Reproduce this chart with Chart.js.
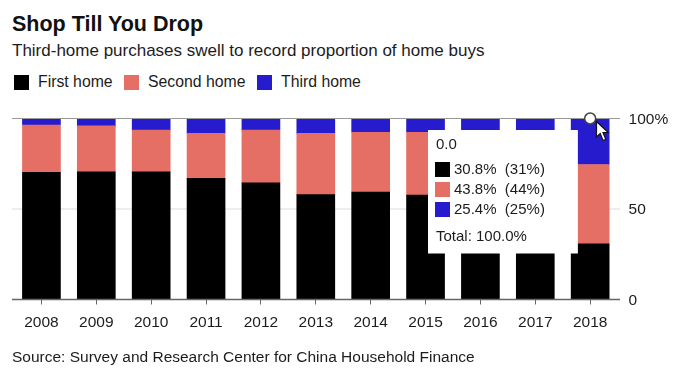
<!DOCTYPE html>
<html>
<head>
<meta charset="utf-8">
<title>Shop Till You Drop</title>
<script src="https://cdn.jsdelivr.net/npm/chart.js@4"></script>
<style>
  html, body { margin: 0; padding: 0; background: #fff; }
  body { width: 684px; height: 381px; position: relative; overflow: hidden; font-family: "Liberation Sans", Arial, sans-serif; color: #1c1c1c; }
  canvas { position: absolute; left: 0; top: 0; }
  .txt { position: absolute; white-space: nowrap; }
  #heading { left: 12px; top: 11px; font-size: 21.5px; line-height: 26px; font-weight: bold; color: #111; }
  #sub { left: 12px; top: 40px; font-size: 17px; line-height: 22px; }
  #source { left: 12px; top: 348px; font-size: 15.5px; line-height: 18px; }
  .key { position: absolute; top: 75px; width: 15px; height: 15px; }
  .keytxt { top: 73px; font-size: 15.8px; line-height: 18px; }
  #cursor { position: absolute; left: 595px; top: 120px; }
</style>
</head>
<body>
<div class="txt" id="heading">Shop Till You Drop</div>
<div class="txt" id="sub">Third-home purchases swell to record proportion of home buys</div>
<div id="legend"></div>
<canvas id="chart" width="684" height="381"></canvas>
<svg id="cursor" width="15" height="24" viewBox="0 0 15 24">
  <path d="M1.5 1.5 L1.5 17 L5.2 13.6 L8 20.5 L10.8 19.3 L8 12.6 L13 12.4 Z" fill="#fff" stroke="#111" stroke-width="1.2"/>
</svg>
<div class="txt" id="source">Source: Survey and Research Center for China Household Finance</div>

<script>
const years = ['2008', '2009', '2010', '2011', '2012', '2013', '2014', '2015', '2016', '2017', '2018'];
const firstHome = [70.2, 70.6, 70.6, 67.0, 64.5, 57.9, 59.4, 57.7, 56.0, 50.0, 30.8];
const secondHome = [26.2, 25.3, 23.0, 24.8, 29.1, 33.9, 33.0, 34.7, 36.0, 38.0, 43.8];
const thirdHome = [3.6, 4.1, 6.4, 8.2, 6.4, 8.2, 7.6, 7.6, 8.0, 12.0, 25.4];
const hoverMarker = [null, null, null, null, null, null, null, null, null, null, 100];
const yTicks = [0, 50, 100];
const seriesNames = ['First home', 'Second home', 'Third home'];
const seriesColors = ['#000000', '#e56f64', '#261ccd'];
const legendLeft = [14, 124, 257];
const tooltipTitle = '0.0';
const tooltipRounded = ['31%', '44%', '25%'];
const tooltipTotal = 'Total: 100.0%';
const fontFamily = '"Liberation Sans", Arial, sans-serif';

// legend
const legend = document.getElementById('legend');
seriesNames.forEach((name, i) => {
    const box = document.createElement('div');
    box.className = 'key';
    box.style.left = legendLeft[i] + 'px';
    box.style.background = seriesColors[i];
    legend.appendChild(box);
    const label = document.createElement('div');
    label.className = 'txt keytxt';
    label.style.left = (legendLeft[i] + 24) + 'px';
    label.textContent = name;
    legend.appendChild(label);
});

// gridlines run a little past the plot on both sides, zero line sits over the bars
const axisLines = {
    id: 'axisLines',
    beforeDatasetsDraw(chart) {
        const { ctx, scales: { y } } = chart;
        ctx.save();
        ctx.strokeStyle = '#dcdcdc';
        ctx.lineWidth = 1;
        ctx.beginPath();
        ctx.moveTo(12, y.getPixelForValue(50));
        ctx.lineTo(620, y.getPixelForValue(50));
        ctx.stroke();
        ctx.restore();
    },
    // dataset 0 is the last bar set drawn, the marker still comes after it
    afterDatasetDraw(chart, args) {
        if (args.index !== 0) return;
        const { ctx, scales: { y } } = chart;
        ctx.save();
        ctx.strokeStyle = '#999999';
        ctx.lineWidth = 1;
        ctx.beginPath();
        ctx.moveTo(12, y.getPixelForValue(100));
        ctx.lineTo(620, y.getPixelForValue(100));
        ctx.stroke();
        ctx.strokeStyle = '#666666';
        ctx.lineWidth = 1.5;
        ctx.beginPath();
        ctx.moveTo(12, y.getPixelForValue(0));
        ctx.lineTo(620, y.getPixelForValue(0));
        ctx.stroke();
        ctx.restore();
    }
};

Chart.Tooltip.positioners.fixedBox = function () {
    return { x: 428, y: 130 };
};

const barSet = (label, data, i) => ({
    label: label,
    data: data,
    backgroundColor: seriesColors[i],
    hoverBackgroundColor: seriesColors[i],
    borderWidth: 0,
    barThickness: 38,
    stack: 'homes',
    order: 2
});

const chart = new Chart(document.getElementById('chart'), {
    type: 'bar',
    data: {
        labels: years,
        datasets: [
            barSet(seriesNames[0], firstHome, 0),
            barSet(seriesNames[1], secondHome, 1),
            barSet(seriesNames[2], thirdHome, 2),
            {
                type: 'line',
                label: 'marker',
                data: hoverMarker,
                stack: 'marker',
                order: 1,
                clip: false,
                showLine: false,
                pointRadius: 5.5,
                pointBackgroundColor: '#ffffff',
                pointBorderColor: '#444444',
                pointBorderWidth: 1.5
            }
        ]
    },
    options: {
        responsive: false,
        animation: false,
        events: [],
        layout: { padding: { left: 14, top: 118.5, right: 0, bottom: 0 } },
        scales: {
            x: {
                stacked: true,
                offset: true,
                afterFit(scale) { scale.height = 81.5; },
                border: { display: false },
                grid: { offset: false, drawOnChartArea: false, drawTicks: true, tickLength: 5, tickColor: '#666666' },
                ticks: {
                    color: '#1c1c1c',
                    font: { family: fontFamily, size: 15.5 },
                    padding: 9,
                    maxRotation: 0,
                    autoSkip: false
                }
            },
            y: {
                stacked: true,
                position: 'right',
                min: 0,
                max: 100,
                afterFit(scale) { scale.width = 66.4; },
                afterBuildTicks(scale) { scale.ticks = yTicks.map(v => ({ value: v })); },
                border: { display: false },
                grid: { drawOnChartArea: false, drawTicks: false },
                ticks: {
                    color: '#1c1c1c',
                    font: { family: fontFamily, size: 15.5 },
                    padding: 11,
                    labelOffset: 1,
                    callback: v => (v === 100 ? v + '%' : v)
                }
            }
        },
        plugins: {
            legend: { display: false },
            tooltip: {
                enabled: true,
                position: 'fixedBox',
                xAlign: 'left',
                yAlign: 'top',
                caretSize: 0,
                caretPadding: 0,
                cornerRadius: 0,
                backgroundColor: '#ffffff',
                titleColor: '#1c1c1c',
                bodyColor: '#1c1c1c',
                footerColor: '#1c1c1c',
                titleFont: { family: fontFamily, size: 15, weight: 'normal' },
                bodyFont: { family: fontFamily, size: 15 },
                footerFont: { family: fontFamily, size: 15, weight: 'normal' },
                padding: { left: 8, top: 5.5, right: 33, bottom: 8 },
                titleMarginBottom: 7,
                bodySpacing: 2,
                footerMarginTop: 9,
                boxWidth: 13,
                boxHeight: 13,
                boxPadding: 3,
                displayColors: true,
                multiKeyBackground: 'transparent',
                callbacks: {
                    title: () => tooltipTitle,
                    label: item => item.parsed.y.toFixed(1) + '%  (' + tooltipRounded[item.datasetIndex] + ')',
                    labelColor: item => ({ backgroundColor: seriesColors[item.datasetIndex], borderColor: seriesColors[item.datasetIndex], borderWidth: 2 }),
                    footer: () => tooltipTotal
                }
            }
        }
    },
    plugins: [axisLines]
});

const lastIndex = years.length - 1;
chart.tooltip.setActiveElements(
    [0, 1, 2].map(i => ({ datasetIndex: i, index: lastIndex })),
    { x: 590, y: 119 }
);
chart.update();
</script>
</body>
</html>
